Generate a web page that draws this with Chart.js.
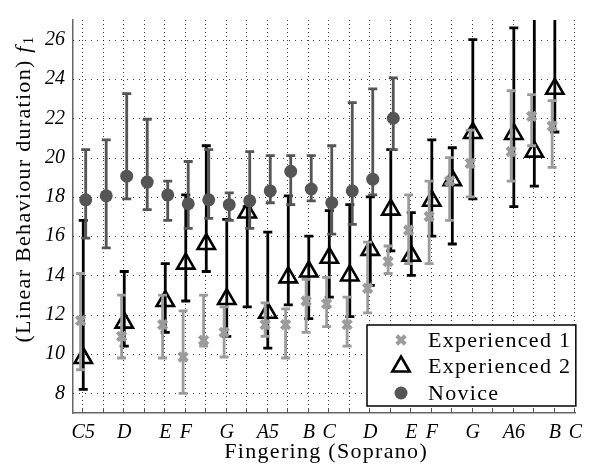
<!DOCTYPE html>
<html>
<head>
<meta charset="utf-8">
<script src="https://cdn.jsdelivr.net/npm/chart.js@4.4.1/dist/chart.umd.min.js"></script>
<style>
  html, body { margin: 0; padding: 0; background: #fff; }
</style>
</head>
<body>
<canvas id="c" width="590" height="467"></canvas>
<script>
// fingerings, chromatic from C5 to C7
const positions = [0,1,2,3,4,5,6,7,8,9,10,11,12,13,14,15,16,17,18,19,20,21,22,23,24];
const noteLabels = ['C5','','D','','E','F','','G','','A5','','B','C','','D','','E','F','','G','','A6','','B','C'];
const yTicks = [8,10,12,14,16,18,20,22,24,26];

// Experienced 1 : value, lower end, upper end
const exp1Val = [11.7,null,10.9,null,11.5,9.85,10.7,11.1,null,11.5,11.5,12.7,12.55,11.5,13.35,14.7,16.3,17.0,18.8,19.7,null,20.3,22.1,21.6];
const exp1Lo  = [9.2,null,9.8,null,9.8,8.0,10.4,9.85,null,10.9,9.8,11.1,11.4,10.4,12.1,14.1,14.6,14.6,16.8,18.0,null,18.8,20.6,19.5];
const exp1Hi  = [14.1,null,13.0,null,13.0,12.2,13.0,12.4,null,12.6,12.3,13.8,13.9,12.9,15.7,15.5,18.1,18.8,20.0,21.4,null,23.4,23.2,22.9];

// Experienced 2
const exp2Val = [9.8,null,11.6,null,12.7,14.6,15.6,12.8,17.2,12.1,13.9,14.2,14.9,14.0,15.3,17.35,15.0,17.8,18.85,21.25,null,21.2,20.3,23.5];
const exp2Lo  = [8.2,null,10.4,null,11.1,12.7,14.2,10.9,12.4,10.3,12.5,11.8,12.9,11.9,13.5,15.25,14.0,16.0,15.6,17.9,null,17.5,18.55,21.3];
const exp2Hi  = [16.8,null,14.2,null,14.6,18.1,20.6,16.85,17.5,16.2,18.05,16.0,17.3,17.6,18.0,20.4,17.2,20.9,20.5,26.0,null,26.6,28.5,29.0];

// Novice
const novVal = [17.85,18.05,19.05,18.75,18.1,17.65,17.85,17.6,17.8,18.3,19.3,18.4,17.7,18.3,18.9,22.0];
const novLo  = [15.9,15.4,17.9,17.35,16.8,16.4,16.9,16.8,16.4,17.7,17.6,17.8,16.1,16.6,18.1,20.4];
const novHi  = [20.4,20.9,23.25,21.95,18.8,19.8,20.4,18.2,20.3,20.1,20.1,20.1,20.6,22.8,23.5,24.05];

const serif = "'Liberation Serif', 'DejaVu Serif', serif";
const colExp1 = '#9c9c9c';
const colExp2 = '#000000';
const colNov = '#555555';

function points(vals, lo, hi, shift) {
  const out = [];
  vals.forEach((v, i) => {
    if (v !== null) out.push({ x: positions[i] + shift, y: v, lo: lo[i], hi: hi[i] });
  });
  return out;
}

// dotted grid (vertical at every fingering, horizontal at the y ticks)
const dottedGrid = {
  id: 'dottedGrid',
  beforeDatasetsDraw(chart) {
    const { ctx, chartArea: a, scales: { x, y } } = chart;
    ctx.save();
    ctx.strokeStyle = 'rgba(0,0,0,0.75)';
    ctx.lineWidth = 1;
    ctx.setLineDash([1, 3]);
    positions.forEach(p => {
      const px = Math.round(x.getPixelForValue(p)) - 0.5;
      ctx.beginPath();
      ctx.moveTo(px, a.top);
      ctx.lineTo(px, a.bottom);
      ctx.stroke();
    });
    ctx.setLineDash([1, 5]);
    yTicks.forEach(v => {
      const py = Math.round(y.getPixelForValue(v)) + 0.5;
      ctx.beginPath();
      ctx.moveTo(a.left, py);
      ctx.lineTo(a.right, py);
      ctx.stroke();
    });
    ctx.restore();
  }
};

// vertical error bars with caps, drawn under each series' markers
const errorBars = {
  id: 'errorBars',
  beforeDatasetDraw(chart, args) {
    const ds = chart.data.datasets[args.index];
    const { ctx, chartArea: a, scales: { x, y } } = chart;
    ctx.save();
    ctx.beginPath();
    ctx.rect(a.left, a.top, a.right - a.left, a.bottom - a.top);
    ctx.clip();
    ctx.strokeStyle = ds.barColor;
    ctx.lineWidth = 2.8;
    ds.data.forEach(d => {
      const px = x.getPixelForValue(d.x);
      const pLo = y.getPixelForValue(d.lo);
      const pHi = y.getPixelForValue(d.hi);
      ctx.beginPath();
      ctx.moveTo(px, pLo); ctx.lineTo(px, pHi);
      ctx.moveTo(px - 4.5, pLo); ctx.lineTo(px + 4.5, pLo);
      ctx.moveTo(px - 4.5, pHi); ctx.lineTo(px + 4.5, pHi);
      ctx.stroke();
    });
    ctx.restore();
  }
};

// axis titles, inner x ticks and the legend box
const extras = {
  id: 'extras',
  afterDraw(chart) {
    const { ctx, chartArea: a, scales: { x } } = chart;

    // small ticks pointing into the plot
    ctx.save();
    ctx.strokeStyle = '#555';
    ctx.lineWidth = 1;
    positions.forEach(p => {
      const px = Math.round(x.getPixelForValue(p)) - 0.5;
      ctx.beginPath();
      ctx.moveTo(px, a.bottom);
      ctx.lineTo(px, a.bottom - 5);
      ctx.stroke();
    });
    ctx.restore();

    // x axis title
    ctx.save();
    ctx.fillStyle = '#000';
    ctx.letterSpacing = '1.3px';
    ctx.textBaseline = 'middle';
    ctx.textAlign = 'center';
    ctx.font = '22px ' + serif;
    ctx.fillText('Fingering (Soprano)', (a.left + a.right) / 2 + 2, 452);
    ctx.restore();

    // y axis title
    ctx.save();
    ctx.translate(24, 189);
    ctx.rotate(-Math.PI / 2);
    ctx.fillStyle = '#000';
    ctx.letterSpacing = '1.3px';
    ctx.textBaseline = 'middle';
    const main = '(Linear Behaviour duration) ';
    ctx.font = '22px ' + serif;
    const w1 = ctx.measureText(main).width;
    ctx.font = 'italic 22px ' + serif;
    const w2 = ctx.measureText('f').width + 1;
    ctx.font = '15px ' + serif;
    const w3 = ctx.measureText('1').width;
    let tx = -(w1 + w2 + w3) / 2;
    ctx.font = '22px ' + serif;
    ctx.fillText(main, tx, 0);
    tx += w1;
    ctx.font = 'italic 22px ' + serif;
    ctx.fillText('f', tx, 0);
    tx += w2;
    ctx.font = '15px ' + serif;
    ctx.fillText('1', tx, 5);
    ctx.restore();

    // legend
    const bx = 367, by = 325, bw = a.right - bx + 0.5, bh = 81;
    ctx.save();
    ctx.fillStyle = '#fff';
    ctx.fillRect(bx, by, bw, bh);
    ctx.strokeStyle = '#000';
    ctx.lineWidth = 1.5;
    ctx.strokeRect(bx, by, bw, bh);
    ctx.textBaseline = 'middle';
    chart.data.datasets.forEach((ds, i) => {
      const ly = by + 15 + i * 26.5;
      ctx.fillStyle = ds.backgroundColor;
      ctx.strokeStyle = ds.borderColor;
      ctx.lineWidth = ds.borderWidth;
      ctx.letterSpacing = '0px';
      Chart.helpers.drawPoint(ctx, {
        pointStyle: ds.pointStyle, radius: ds.pointRadius, borderWidth: ds.borderWidth, rotation: 0
      }, bx + 34, ly);
      ctx.fillStyle = '#000';
      ctx.font = '22px ' + serif;
      ctx.letterSpacing = '1.3px';
      ctx.fillText(ds.label, bx + 61, ly + 1);
    });
    ctx.restore();
  }
};

new Chart(document.getElementById('c'), {
  type: 'scatter',
  data: {
    datasets: [
      {
        label: 'Experienced 1',
        data: points(exp1Val, exp1Lo, exp1Hi, -0.13),
        pointStyle: 'crossRot',
        pointRadius: 6,
        borderWidth: 4,
        borderColor: colExp1,
        backgroundColor: colExp1,
        barColor: colExp1,
        order: 1
      },
      {
        label: 'Experienced 2',
        data: points(exp2Val, exp2Lo, exp2Hi, 0),
        pointStyle: 'triangle',
        pointRadius: 10,
        borderWidth: 2.6,
        borderColor: colExp2,
        backgroundColor: 'rgba(0,0,0,0)',
        barColor: colExp2,
        order: 2
      },
      {
        label: 'Novice',
        data: points(novVal, novLo, novHi, 0.12),
        pointStyle: 'circle',
        pointRadius: 6.5,
        borderWidth: 0,
        borderColor: colNov,
        backgroundColor: colNov,
        barColor: colNov,
        order: 0
      }
    ]
  },
  options: {
    responsive: false,
    devicePixelRatio: 1,
    animation: false,
    layout: { padding: { top: 13, right: 9, left: 0, bottom: 0 } },
    plugins: {
      legend: { display: false },
      tooltip: { enabled: false }
    },
    elements: { point: { hoverRadius: 0 } },
    scales: {
      x: {
        type: 'linear',
        min: -0.5,
        max: 24,
        afterBuildTicks: s => { s.ticks = positions.map(v => ({ value: v })); },
        afterFit: s => { s.height = 54; },
        ticks: {
          autoSkip: false,
          maxRotation: 0,
          padding: 8,
          color: '#000',
          font: { family: serif, size: 20, style: 'italic' },
          callback: v => noteLabels[v]
        },
        grid: { color: 'rgba(0,0,0,0)', drawTicks: false },
        border: { color: '#666', width: 1.5 }
      },
      y: {
        min: 7,
        max: 27,
        afterBuildTicks: s => { s.ticks = yTicks.map(v => ({ value: v })); },
        afterFit: s => { s.width = 73; },
        ticks: {
          padding: 8,
          color: '#000',
          font: { family: serif, size: 20, style: 'italic' }
        },
        grid: { color: 'rgba(0,0,0,0)', drawTicks: false },
        border: { color: '#666', width: 1.5 }
      }
    }
  },
  plugins: [dottedGrid, errorBars, extras]
});
</script>
</body>
</html>
